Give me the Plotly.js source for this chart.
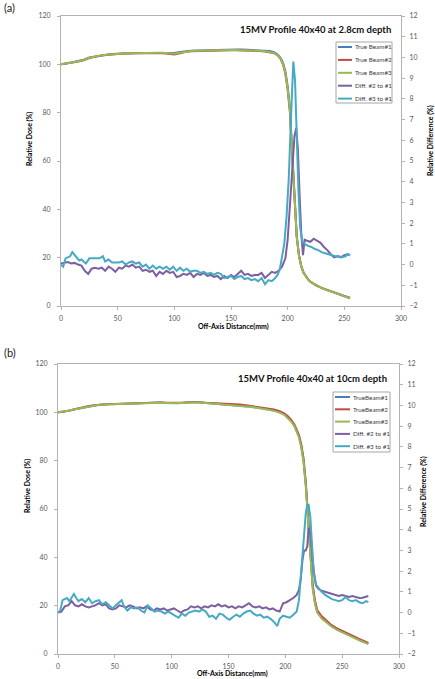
<!DOCTYPE html>
<html><head><meta charset="utf-8">
<script src="https://cdn.plot.ly/plotly-3.0.1.min.js"></script>
<style>html,body{margin:0;padding:0;background:#fff}#c{width:435px;height:679px}</style>
</head><body><div id="c"></div>
<script>
// ---------- DATA ----------
const seriesNamesA = ["True Beam#1","True Beam#2","True Beam#3","Diff. #2 to #1","Diff. #3 to #1"];
const seriesNamesB = ["TrueBeam#1","TrueBeam#2","TrueBeam#3","Diff. #2 to #1","Diff. #3 to #1"];
const titleA = "15MV Profile 40x40 at 2.8cm depth";
const titleB = "15MV Profile 40x40 at 10cm depth";
const xTitle = "Off-Axis Distance(mm)";
const yTitle = "Relative Dose (%)";
const y2Title = "Relative Difference (%)";

// Panel (a) dose profiles
const xDoseA = [0,5,10,15,20,25,30,35,40,45,50,55,60,65,70,75,80,85,90,95,100,105,110,115,120,125,130,135,140,145,150,155,160,165,170,175,180,
  184,188,191,194,196,198,200,202,204,206,208,210,212,214,216,218,220,
  225,230,235,240,245,250,255];
const tb1A = [100,100.3,100.9,101.4,101.9,102.8,103.3,103.7,104.0,104.3,104.5,104.6,104.6,104.7,104.7,104.8,104.8,104.9,104.9,104.8,104.7,105.1,105.5,105.6,105.7,105.8,105.9,105.9,105.9,106.0,106.0,106.1,106.1,106.0,105.9,105.8,105.7,
  105.5,105.0,104.2,102.5,100.5,97,91,82,64,43,29,21,16.5,13.8,12.2,11,10.1,
  8.5,7.4,6.5,5.6,4.8,4.0,3.2];
const tb2A = [100,100.2,100.7,101.2,101.7,102.6,103.2,103.6,103.9,104.2,104.4,104.5,104.5,104.6,104.6,104.7,104.6,104.7,104.6,104.3,104.1,104.6,105.2,105.4,105.5,105.6,105.7,105.7,105.7,105.8,105.8,105.8,105.8,105.7,105.6,105.5,105.3,
  105.1,104.6,103.8,102.0,99.8,96,89.5,80,62,42,28.5,20.8,16.4,13.7,12.1,11,10.1,
  8.6,7.5,6.6,5.7,4.9,4.2,3.4];
const tb3A = [100,100.3,100.8,101.3,101.8,102.7,103.3,103.7,104.0,104.2,104.4,104.5,104.6,104.6,104.7,104.7,104.7,104.8,104.8,104.6,104.4,104.8,105.3,105.5,105.6,105.7,105.7,105.8,105.8,105.8,105.9,105.9,105.9,105.8,105.7,105.6,105.4,
  105.2,104.7,103.9,102.2,100.0,96.3,90,81,63,42.5,28.5,20.8,16.4,13.7,12.1,11,10.1,
  8.6,7.4,6.5,5.6,4.8,4.1,3.3];

// Panel (a) differences
const xD2A = [0,3,6,9,12,15,18,21,24,27,30,33,36,39,42,45,48,51,54,57,60,63,66,69,72,75,78,81,84,87,90,93,96,99,102,105,108,111,114,117,120,123,126,129,132,135,138,141,144,147,150,153,156,159,162,165,168,171,174,177,180,183,186,189,192,195,198,200,202,204,206,207.5,209,210.5,212,213.5,215,217,220,223,226,229,232,235,238,241,244,247,250,253,255];
const d2A = [0.05,0.1,0.12,0.05,0.08,0.0,-0.05,-0.3,-0.45,-0.2,-0.15,-0.2,-0.15,-0.3,-0.1,-0.2,-0.35,-0.15,-0.2,-0.05,-0.1,0.0,-0.15,-0.1,-0.3,-0.25,-0.35,-0.3,-0.55,-0.35,-0.45,-0.3,-0.4,-0.35,-0.6,-0.55,-0.45,-0.5,-0.4,-0.6,-0.45,-0.5,-0.4,-0.55,-0.5,-0.6,-0.55,-0.7,-0.55,-0.65,-0.5,-0.6,-0.45,-0.3,-0.5,-0.45,-0.55,-0.5,-0.5,-0.4,-0.65,-0.5,-0.35,-0.4,-0.3,-0.1,0.3,1.2,2.8,4.6,6.2,6.6,5.6,3.4,1.5,0.45,1.2,1.15,1.1,1.25,1.15,1.05,0.85,0.7,0.5,0.35,0.4,0.35,0.45,0.5,0.45];
const xD3A = [0,2,4,6,8,10,12,14,16,18,20,22,25,28,31,34,37,39,42,45,48,51,54,57,60,63,66,69,72,75,78,81,84,87,90,93,96,99,102,105,108,111,114,117,120,123,126,129,132,135,138,141,144,147,150,153,156,159,162,165,168,171,174,177,180,183,186,189,191,193,195,197,199,201,203,205,206.5,208,209.5,211,213,215,218,221,224,227,230,233,236,239,242,245,248,251,253,255];
const d3A = [0.0,-0.1,0.3,0.35,0.4,0.6,0.45,0.3,0.2,0.25,0.15,0.05,0.3,0.3,0.3,0.3,0.4,0.15,0.25,0.1,0.1,0.1,0.15,0.0,0.1,0.15,0.05,0.1,-0.1,0.0,-0.2,-0.05,-0.2,-0.1,-0.2,-0.1,-0.25,-0.1,-0.3,-0.15,-0.3,-0.2,-0.35,-0.3,-0.3,-0.4,-0.35,-0.45,-0.4,-0.5,-0.4,-0.45,-0.65,-0.6,-0.55,-0.7,-0.6,-0.55,-0.7,-0.65,-0.75,-0.7,-0.8,-0.65,-0.95,-0.75,-0.8,-0.65,-0.5,-0.25,0.3,1.0,2.3,4.2,7.2,9.8,8.9,6.0,3.6,1.8,1.1,1.0,0.9,0.85,0.75,0.7,0.6,0.55,0.5,0.45,0.4,0.4,0.35,0.4,0.5,0.45];

// Panel (b) dose profiles
const xDoseB = [0,5,10,15,20,25,30,35,40,45,50,55,60,65,70,75,80,85,90,95,100,105,110,115,120,125,130,135,140,145,150,155,160,165,170,175,180,185,190,195,
  199,202,205,208,210,212,214,216,218,219.5,221,222.5,224,226,228,
  232,236,240,245,250,255,260,265,270,273];
const tb1B = [100,100.2,100.7,101.3,101.8,102.3,102.7,103.0,103.2,103.3,103.5,103.6,103.7,103.8,103.9,104.0,104.0,104.1,104.1,103.9,103.8,103.8,104.0,104.2,104.3,104.1,103.9,103.8,103.6,103.5,103.4,103.2,102.9,102.6,102.3,102.0,101.7,101.2,100.8,100.1,
  99.2,98.0,96.5,94.5,92.5,90,86,80,70,60,48,37,28,21.5,17.5,
  15,13.2,11.8,10.3,9.1,8.0,7.0,5.9,4.9,4.3];
const tb2B = [100,100.2,100.8,101.4,101.9,102.4,102.8,103.1,103.3,103.4,103.5,103.6,103.7,103.8,103.9,104.0,104.1,104.1,104.1,104.0,103.9,103.9,104.0,104.2,104.3,104.2,104.0,103.9,103.8,103.7,103.6,103.4,103.2,102.9,102.6,102.3,102.0,101.6,101.2,100.5,
  99.6,98.5,97.0,95.0,93.0,90.6,86.8,81,71,61,49,38,29,22.3,18.2,
  15.6,13.7,12.2,10.7,9.5,8.4,7.3,6.2,5.2,4.6];
const tb3B = [100,100.3,100.8,101.3,101.8,102.3,102.7,103.0,103.2,103.3,103.4,103.5,103.6,103.7,103.8,103.9,104.0,104.0,104.0,103.9,103.8,103.8,103.9,104.1,104.2,104.1,103.9,103.7,103.6,103.5,103.3,103.1,102.8,102.5,102.2,101.9,101.6,101.1,100.6,99.9,
  99.0,97.8,96.2,94.2,92.2,89.6,85.5,79.5,69.5,59,47,36,27.5,21,17.2,
  14.7,13.0,11.6,10.1,8.9,7.8,6.8,5.7,4.7,4.1];

// Panel (b) differences
const xD2B = [0,3,6,9,12,15,18,21,24,27,30,33,36,39,42,45,48,51,54,57,60,63,66,69,72,75,78,81,84,87,90,93,96,99,102,105,108,111,114,117,120,123,126,129,132,135,138,141,144,147,150,153,156,159,162,165,168,171,174,177,180,183,186,189,192,195,198,201,204,207,210,212,213.5,215,216.5,218,219.3,220.5,222,223.5,225,227,229,232,235,238,241,244,247,250,253,256,259,262,265,268,271,273];
const d2B = [0.0,0.05,0.3,0.35,0.55,0.35,0.3,0.4,0.3,0.25,0.3,0.35,0.45,0.35,0.4,0.2,0.15,0.2,0.35,0.3,0.25,0.35,0.3,0.2,0.25,0.2,0.3,0.15,0.1,0.2,0.15,0.2,0.1,0.15,0.2,0.1,0.0,0.1,0.15,0.3,0.25,0.3,0.2,0.3,0.25,0.35,0.3,0.4,0.3,0.35,0.25,0.3,0.2,0.3,0.25,0.35,0.45,0.3,0.25,0.3,0.2,0.25,0.15,0.2,0.1,0.05,0.45,0.5,0.6,0.7,0.85,1.1,1.6,2.5,3.0,3.0,3.2,4.1,3.8,2.9,2.0,1.3,1.15,1.05,1.0,0.95,0.9,0.85,0.8,0.85,0.8,0.75,0.8,0.75,0.7,0.72,0.75,0.8];
const xD3B = [0,2,4,6,8,10,12,14,16,18,21,24,27,30,33,36,39,42,45,48,51,54,56,58,61,64,67,70,73,76,79,82,85,88,91,94,97,100,103,106,109,112,115,118,121,124,127,130,133,136,139,142,145,148,151,154,157,160,163,166,169,172,175,178,181,184,187,190,193,195,198,201,204,207,210,212,213.5,215,216.5,218,219.3,220.5,222,223.5,225,227,229,232,235,238,241,244,247,250,253,256,259,262,265,268,271,273];
const d3B = [0.0,0.1,0.6,0.65,0.7,0.55,0.75,0.9,0.7,0.55,0.65,0.5,0.7,0.45,0.55,0.6,0.4,0.5,0.35,0.2,0.35,0.5,0.6,0.3,0.1,0.25,0.2,0.25,0.1,0.0,0.35,0.2,0.05,0.1,0.05,-0.05,0.05,-0.05,-0.15,-0.25,-0.05,-0.15,0.0,0.05,0.1,0.05,0.15,0.05,-0.2,-0.15,-0.3,-0.05,-0.1,-0.25,-0.35,-0.2,-0.1,-0.2,-0.05,0.05,0.1,-0.05,-0.15,-0.1,-0.25,-0.2,-0.3,-0.45,-0.65,-0.3,-0.15,-0.2,-0.25,-0.1,0.05,0.6,1.6,2.8,4.0,4.8,5.2,5.2,4.6,3.2,1.9,1.35,1.2,1.0,0.85,0.75,0.65,0.6,0.55,0.6,0.75,0.6,0.55,0.6,0.5,0.45,0.55,0.5];

const colors = ["#4A7EBB","#BE4B48","#98B954","#7D60A0","#46AAC5"];

// ---------- LAYOUT HELPERS ----------
const W = 435, H = 679;
const px = v => v / W;
const py = v => 1 - v / H;
const FONT = "Lato, 'Liberation Sans', sans-serif";

function doseTrace(x, y, name, c, xa, ya) {
  return {x, y, name, type: "scatter", mode: "lines", xaxis: xa, yaxis: ya,
          line: {color: c, width: 2}, showlegend: false, hoverinfo: "skip"};
}

const traces = [
  doseTrace(xDoseA, tb1A, seriesNamesA[0], colors[0], "x", "y"),
  doseTrace(xDoseA, tb2A, seriesNamesA[1], colors[1], "x", "y"),
  doseTrace(xDoseA, tb3A, seriesNamesA[2], colors[2], "x", "y"),
  doseTrace(xD2A, d2A, seriesNamesA[3], colors[3], "x", "y2"),
  doseTrace(xD3A, d3A, seriesNamesA[4], colors[4], "x", "y2"),
  doseTrace(xDoseB, tb1B, seriesNamesB[0], colors[0], "x2", "y3"),
  doseTrace(xDoseB, tb2B, seriesNamesB[1], colors[1], "x2", "y3"),
  doseTrace(xDoseB, tb3B, seriesNamesB[2], colors[2], "x2", "y3"),
  doseTrace(xD2B, d2B, seriesNamesB[3], colors[3], "x2", "y4"),
  doseTrace(xD3B, d3B, seriesNamesB[4], colors[4], "x2", "y4")
];

const axLine = "#b3b3b3";
const tickFont = {family: FONT, size: 7, color: "#595959"};
function xAx(dom, anchor) {
  return {domain: dom, anchor, range: [0, 300], dtick: 50, tick0: 0, showgrid: false, zeroline: false,
    showline: true, linecolor: axLine, linewidth: 1, mirror: true, ticks: "outside", ticklen: 3,
    tickcolor: axLine, tickfont: tickFont, ticklabelstandoff: 3, fixedrange: true};
}
function yAx(dom, anchor) {
  return {domain: dom, anchor, range: [0, 120], dtick: 20, tick0: 0, showgrid: false, zeroline: false,
    showline: true, linecolor: axLine, linewidth: 1, ticks: "outside", ticklen: 3,
    tickcolor: axLine, tickfont: tickFont, ticklabelstandoff: 5, fixedrange: true};
}
function y2Ax(over, anchor) {
  return {overlaying: over, anchor, side: "right", range: [-2, 12], dtick: 1, tick0: -2, showgrid: false,
    zeroline: false, showline: true, linecolor: axLine, linewidth: 1, ticks: "outside", ticklen: 3,
    tickcolor: axLine, tickfont: tickFont, ticklabelstandoff: 3, fixedrange: true};
}

const annotations = [];
const shapes = [];
function txt(text, x, y, opts) {
  annotations.push(Object.assign({text, x: px(x), y: py(y), xref: "paper", yref: "paper",
    showarrow: false, font: {family: FONT, size: 7, color: "#000"}, xanchor: "center", yanchor: "middle"}, opts || {}));
}

// panel labels
txt("(a)", 2, 8, {xanchor: "left", font: {family: FONT, size: 11, color: "#222"}});
txt("(b)", 2, 352, {xanchor: "left", font: {family: FONT, size: 11, color: "#222"}});
// chart titles
txt("<b>" + titleA + "</b>", 393, 30, {xanchor: "right", font: {family: FONT, size: 9.5, color: "#111"}});
txt("<b>" + titleB + "</b>", 389, 378, {xanchor: "right", font: {family: FONT, size: 9.5, color: "#111"}});
// axis titles
const bold7 = {family: FONT, size: 7, color: "#000"};
txt("<b>" + xTitle + "</b>", 233, 326, {font: bold7});
txt("<b>" + xTitle + "</b>", 232, 673, {font: bold7});
txt("<b>" + yTitle + "</b>", 30, 139, {textangle: -90, font: bold7});
txt("<b>" + yTitle + "</b>", 27, 486, {textangle: -90, font: bold7});
txt("<b>" + y2Title + "</b>", 430, 141, {textangle: -90, font: bold7});
txt("<b>" + y2Title + "</b>", 423, 492, {textangle: -90, font: bold7});

// legends (drawn boxes)
function legend(names, bx0, by0, bx1, by1, firstY, step, lx0, lx1) {
  shapes.push({type: "rect", xref: "paper", yref: "paper", x0: px(bx0), x1: px(bx1), y0: py(by0), y1: py(by1),
    line: {color: "#a6a6a6", width: 1}, fillcolor: "#ffffff", layer: "above"});
  names.forEach((n, i) => {
    const yy = firstY + i * step;
    shapes.push({type: "line", xref: "paper", yref: "paper", x0: px(lx0), x1: px(lx1), y0: py(yy), y1: py(yy),
      line: {color: colors[i], width: 2}, layer: "above"});
    txt(n, lx1 + 1, yy, {xanchor: "left", font: {family: FONT, size: 6.3, color: "#404040"}});
  });
}
legend(seriesNamesA, 336, 42, 392, 103, 47, 12.9, 338, 352);
legend(seriesNamesB, 333, 392, 390, 452, 397, 12.3, 335, 350);

const layout = {
  width: W, height: H, margin: {l: 0, r: 0, t: 0, b: 0},
  paper_bgcolor: "#fff", plot_bgcolor: "#fff", showlegend: false,
  font: {family: FONT},
  xaxis: xAx([px(61), px(401)], "y"),
  yaxis: yAx([py(306), py(16)], "x"),
  yaxis2: y2Ax("y", "x"),
  xaxis2: xAx([px(58), px(399)], "y3"),
  yaxis3: yAx([py(654), py(364)], "x2"),
  yaxis4: y2Ax("y3", "x2"),
  annotations, shapes
};

Plotly.newPlot("c", traces, layout, {displayModeBar: false, staticPlot: true});
</script>
</body></html>
